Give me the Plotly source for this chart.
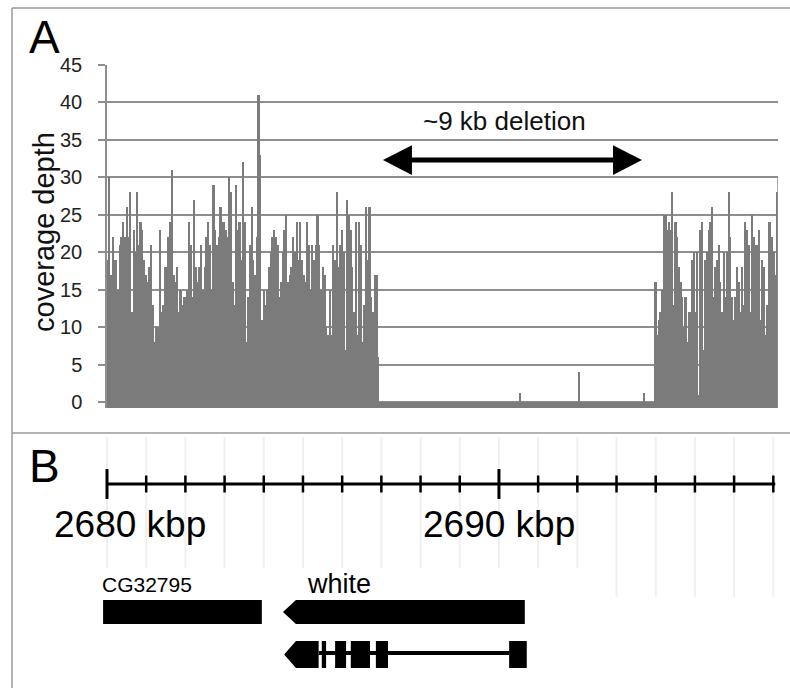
import plotly.graph_objects as go

# ---------------- data ----------------
# Panel A: coverage depth per bin
left_cov = [19, 30, 17, 22, 19, 19, 15, 21, 22, 24, 22, 26, 22, 28, 12, 23, 20, 28, 21, 24,
            23, 19, 17, 16, 18, 21, 13, 8, 10, 10, 23, 12, 13, 18, 18, 22, 24, 31, 17, 16,
            18, 12, 15, 13, 14, 14, 15, 24, 21, 14, 27, 18, 16, 18, 21, 15, 18, 22, 24, 21,
            15, 29, 23, 21, 22, 26, 24, 24, 23, 22, 30, 28, 16, 13, 29, 23, 24, 19, 32, 24,
            8, 14, 21, 26, 19, 17, 22, 41, 33, 11, 15, 13, 15, 18, 20, 22, 23, 22, 21, 14,
            16, 20, 23, 25, 16, 17, 18, 22, 20, 24, 19, 24, 19, 17, 16, 24, 21, 15, 21, 19,
            21, 25, 21, 15, 18, 17, 10, 9, 15, 9, 21, 19, 28, 18, 21, 23, 20, 7, 27, 25,
            23, 18, 12, 24, 9, 24, 21, 8, 13, 26, 19, 26, 14, 12, 17, 17, 6]
right_cov = [16, 9, 11, 12, 15, 25, 25, 23, 24, 23, 28, 13, 24, 22, 18, 16, 14, 10, 14, 8,
             12, 12, 19, 20, 12, 20, 1, 23, 24, 7, 19, 20, 23, 24, 26, 14, 18, 19, 21, 16,
             12, 20, 14, 20, 28, 22, 14, 11, 14, 18, 16, 12, 18, 13, 24, 23, 21, 12, 25, 22,
             21, 21, 23, 11, 19, 18, 9, 13, 24, 24, 22, 20, 17, 28]
deletion_spike_kbp = [2690.54, 2692.04, 2693.70]
deletion_spike_cov = [1.2, 4.0, 1.2]

left_region_kbp = [2680.0, 2686.95]
right_region_kbp = [2693.98, 2697.12]
deletion_kbp = [2687.04, 2693.65]
deletion_label = "~9 kb deletion"

y_ticks = [0, 5, 10, 15, 20, 25, 30, 35, 40, 45]

# Panel B: ruler and genes (kbp)
ruler_kbp = list(range(2680, 2698))
ruler_major = [2680, 2690]
ruler_labels = ["2680 kbp", "2690 kbp"]

gene_names = ["CG32795", "white"]
gene_start = [2679.90, 2684.49]
gene_end = [2683.95, 2690.66]
gene_strand = ["+", "-"]

white_exon_start = [2684.52, 2685.48, 2685.82, 2686.22, 2686.86, 2690.26]
white_exon_end = [2685.40, 2685.59, 2686.10, 2686.71, 2687.17, 2690.71]

# ---------------- style ----------------
FONT = "Liberation Sans, Arial, sans-serif"
BAR = "#7b7b7b"
GRID = "#8e8e8e"
FRAME = "#9a9a9a"
X_RANGE = [2680.0, 2697.12]
PX_PER_KBP = (778 - 107) / (X_RANGE[1] - X_RANGE[0])
X2_RANGE = [X_RANGE[0] - 7 / PX_PER_KBP, X_RANGE[1]]
W, H = 790, 688


def bins(region, values):
    n = len(values)
    w = (region[1] - region[0]) / n
    return [region[0] + (i + 0.5) * w for i in range(n)], w


lx, lw = bins(left_region_kbp, left_cov)
rx, rw = bins(right_region_kbp, right_cov)

fig = go.Figure()
fig.add_trace(go.Bar(x=lx, y=left_cov, width=lw, marker=dict(color=BAR, line=dict(width=0)),
                     xaxis="x", yaxis="y", showlegend=False))
fig.add_trace(go.Bar(x=rx, y=right_cov, width=rw, marker=dict(color=BAR, line=dict(width=0)),
                     xaxis="x", yaxis="y", showlegend=False))
fig.add_trace(go.Bar(x=deletion_spike_kbp, y=deletion_spike_cov, width=0.035,
                     marker=dict(color=BAR, line=dict(width=0)),
                     xaxis="x", yaxis="y", showlegend=False))
# invisible trace to activate panel B axes
fig.add_trace(go.Scatter(x=[X_RANGE[0]], y=[680], mode="markers", marker=dict(opacity=0),
                         xaxis="x2", yaxis="y2", showlegend=False, hoverinfo="skip"))

shapes = []
py = lambda p: 1 - p / H
px = lambda p: p / W
# frame
shapes.append(dict(type="line", xref="paper", yref="paper", x0=px(12), x1=px(12), y0=0, y1=py(8),
                   line=dict(color=FRAME, width=1.5)))
shapes.append(dict(type="line", xref="paper", yref="paper", x0=px(12), x1=1, y0=py(8), y1=py(8),
                   line=dict(color=FRAME, width=1.5)))
shapes.append(dict(type="line", xref="paper", yref="paper", x0=px(12), x1=1, y0=py(433), y1=py(433),
                   line=dict(color=FRAME, width=1.5)))

# baseline band under zero
shapes.append(dict(type="rect", xref="x", yref="y", x0=X_RANGE[0], x1=X_RANGE[1], y0=-0.8, y1=0,
                   fillcolor=BAR, line=dict(width=0), layer="above"))
# right border of plot area (below 30)
shapes.append(dict(type="line", xref="x", yref="y", x0=X_RANGE[1], x1=X_RANGE[1], y0=-0.8, y1=30,
                   line=dict(color=GRID, width=1.5)))

# deletion double arrow
ay = 32.3
hh = 2.0
hl = 0.74
shapes.append(dict(type="line", xref="x", yref="y", x0=deletion_kbp[0] + hl * 0.8,
                   x1=deletion_kbp[1] - hl * 0.8, y0=ay, y1=ay, line=dict(color="black", width=5)))
shapes.append(dict(type="path", xref="x", yref="y",
                   path=f"M {deletion_kbp[0]},{ay} L {deletion_kbp[0]+hl},{ay+hh} L {deletion_kbp[0]+hl},{ay-hh} Z",
                   fillcolor="black", line=dict(width=0)))
shapes.append(dict(type="path", xref="x", yref="y",
                   path=f"M {deletion_kbp[1]},{ay} L {deletion_kbp[1]-hl},{ay+hh} L {deletion_kbp[1]-hl},{ay-hh} Z",
                   fillcolor="black", line=dict(width=0)))

# Panel B faint vertical guides
for k in ruler_kbp:
    y_end = 597 if k >= 2693 else 568
    shapes.append(dict(type="line", xref="x2", yref="y2", x0=k, x1=k, y0=437, y1=y_end,
                       line=dict(color="#f0f0f0", width=2), layer="below"))

# ruler
RY = 484
shapes.append(dict(type="line", xref="x2", yref="y2", x0=ruler_kbp[0], x1=ruler_kbp[-1] + 0.05,
                   y0=RY, y1=RY, line=dict(color="black", width=3)))
for k in ruler_kbp:
    half = 15 if k in ruler_major else 8.5
    shapes.append(dict(type="line", xref="x2", yref="y2", x0=k, x1=k, y0=RY - half, y1=RY + half,
                       line=dict(color="black", width=3 if k in ruler_major else 2.5)))

# genes
GY0, GY1 = 600, 624
sh = 0.33
for s, e, strand in zip(gene_start, gene_end, gene_strand):
    if strand == "+":
        shapes.append(dict(type="rect", xref="x2", yref="y2", x0=s, x1=e, y0=GY0, y1=GY1,
                           fillcolor="black", line=dict(width=0)))
    else:
        gm = (GY0 + GY1) / 2
        shapes.append(dict(type="path", xref="x2", yref="y2",
                           path=f"M {s},{gm} L {s+sh},{GY0} L {e},{GY0} L {e},{GY1} L {s+sh},{GY1} Z",
                           fillcolor="black", line=dict(width=0)))

# white transcript
TY0, TY1 = 641, 668
tm = (TY0 + TY1) / 2
shapes.append(dict(type="line", xref="x2", yref="y2", x0=white_exon_end[0], x1=white_exon_start[-1],
                   y0=tm - 1.5, y1=tm - 1.5, line=dict(color="black", width=4)))
for i, (s, e) in enumerate(zip(white_exon_start, white_exon_end)):
    if i == 0:
        shapes.append(dict(type="path", xref="x2", yref="y2",
                           path=f"M {s},{tm} L {s+0.3},{TY0} L {e},{TY0} L {e},{TY1} L {s+0.3},{TY1} Z",
                           fillcolor="black", line=dict(width=0)))
    else:
        shapes.append(dict(type="rect", xref="x2", yref="y2", x0=s, x1=e, y0=TY0, y1=TY1,
                           fillcolor="black", line=dict(width=0)))

annotations = [
    dict(text="A", xref="paper", yref="paper", x=px(27), y=py(9), xanchor="left", yanchor="top",
         showarrow=False, font=dict(family=FONT, size=46, color="black")),
    dict(text="B", xref="paper", yref="paper", x=px(27), y=py(438), xanchor="left", yanchor="top",
         showarrow=False, font=dict(family=FONT, size=46, color="black")),
    dict(text="coverage depth", xref="paper", yref="paper", x=px(44), y=py(232), xanchor="center",
         yanchor="middle", textangle=-90, showarrow=False, font=dict(family=FONT, size=29, color="#111")),
    dict(text=deletion_label, xref="x", yref="y", x=(deletion_kbp[0] + deletion_kbp[1]) / 2 - 0.2,
         y=37.5, xanchor="center", yanchor="middle", showarrow=False,
         font=dict(family=FONT, size=26, color="#111")),
]
for k, lab in zip(ruler_major, ruler_labels):
    annotations.append(dict(text=lab, xref="x2", yref="y2", x=k, y=524, xanchor="center",
                            yanchor="middle", xshift=23 if k == ruler_major[0] else 0,
                            showarrow=False, font=dict(family=FONT, size=37, color="black")))
annotations.append(dict(text=gene_names[0], xref="x2", yref="y2", x=gene_start[0], y=584,
                        xanchor="left", yanchor="middle", xshift=-3, showarrow=False,
                        font=dict(family=FONT, size=21, color="black")))
annotations.append(dict(text=gene_names[1], xref="x2", yref="y2", x=gene_start[1] + 0.56, y=584,
                        xanchor="left", yanchor="middle", showarrow=False,
                        font=dict(family=FONT, size=27, color="black")))

fig.update_layout(
    width=W, height=H, margin=dict(l=0, r=0, t=0, b=0, pad=0, autoexpand=False),
    paper_bgcolor="white", plot_bgcolor="white",
    bargap=0, barmode="overlay", showlegend=False,
    xaxis=dict(domain=[px(107), px(778)], range=X_RANGE, visible=False, fixedrange=True,
               automargin=False),
    yaxis=dict(domain=[py(408), py(65)], range=[-0.8, 45], tickvals=y_ticks, automargin=False,
               showgrid=True, gridcolor=GRID, gridwidth=1.5, zeroline=False,
               showline=True, linecolor=GRID, linewidth=1.5,
               ticks="outside", ticklen=7, tickcolor=GRID, tickwidth=1.5,
               ticklabelstandoff=12,
               tickfont=dict(family=FONT, size=20, color="#222")),
    xaxis2=dict(domain=[px(100), px(778)], range=X2_RANGE, visible=False, anchor="y2", automargin=False),
    yaxis2=dict(domain=[0, py(433)], range=[688, 433], visible=False, anchor="x2", automargin=False),
    shapes=shapes, annotations=annotations,
)

fig.write_html("out.html", config={"displayModeBar": False},
               post_script="document.body.style.margin='0';document.body.style.overflow='hidden';")
